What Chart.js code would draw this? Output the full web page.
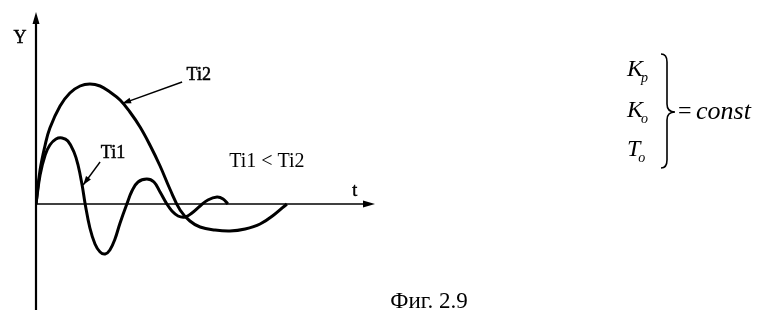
<!DOCTYPE html>
<html>
<head>
<meta charset="utf-8">
<script src="https://cdn.jsdelivr.net/npm/chart.js@4/dist/chart.umd.min.js"></script>
<style>
  html, body { margin: 0; padding: 0; background: #fff; }
  #wrap { width: 758px; height: 320px; position: relative; }
</style>
</head>
<body>
<div id="wrap"><canvas id="c" width="758" height="320"></canvas></div>
<script>
// Step responses of the controlled variable for two integral times
const t_Ti1 = [0, 0.12, 0.27, 0.41, 0.59, 0.77, 0.94, 1.12, 1.24, 1.36, 1.45, 1.59, 1.74, 1.89, 2.04, 2.18, 2.33, 2.48, 2.68, 2.83, 3.01, 3.27, 3.48, 3.66, 3.86, 4.01, 4.19, 4.40, 4.60, 4.84, 5.07, 5.34, 5.52, 5.66];
const y_Ti1 = [0, 1.45, 2.45, 2.95, 3.25, 3.3, 3.15, 2.6, 1.95, 0.95, 0, -1.2, -2.0, -2.4, -2.5, -2.3, -1.75, -0.95, 0, 0.65, 1.1, 1.25, 1.1, 0.6, 0, -0.35, -0.6, -0.65, -0.45, -0.1, 0.2, 0.35, 0.25, 0];

const t_Ti2 = [0, 0.12, 0.27, 0.41, 0.71, 1.0, 1.3, 1.59, 1.89, 2.18, 2.48, 2.77, 3.07, 3.36, 3.66, 3.95, 4.25, 4.54, 4.84, 5.28, 5.72, 6.17, 6.61, 7.05, 7.40];
const y_Ti2 = [0, 1.7, 2.95, 3.8, 4.9, 5.55, 5.9, 6.0, 5.9, 5.6, 5.2, 4.6, 3.85, 2.95, 1.9, 0.75, -0.3, -0.85, -1.15, -1.3, -1.35, -1.25, -1.0, -0.5, 0];

const seriesNames = ['Ti1', 'Ti2'];
const relationText = 'Ti1 < Ti2';
const axisNames = { x: 't', y: 'Y' };
const captionText = 'Фиг. 2.9';

const toPoints = (ts, ys) => ts.map((t, i) => ({ x: t, y: ys[i] }));

const SERIF = '"Liberation Serif", "DejaVu Serif", serif';

function arrowHead(ctx, x0, y0, x1, y1, len, half) {
  const a = Math.atan2(y1 - y0, x1 - x0);
  ctx.beginPath();
  ctx.moveTo(x1, y1);
  ctx.lineTo(x1 - len * Math.cos(a) + half * Math.sin(a), y1 - len * Math.sin(a) - half * Math.cos(a));
  ctx.lineTo(x1 - len * Math.cos(a) - half * Math.sin(a), y1 - len * Math.sin(a) + half * Math.cos(a));
  ctx.closePath();
  ctx.fill();
}

// text with a faint outline so it reads as heavy as printed type
function inkText(ctx, s, x, y) {
  ctx.fillText(s, x, y);
  ctx.lineWidth = 0.5;
  ctx.strokeText(s, x, y);
}

// Axes with arrows, drawn under the curves
const axesPlugin = {
  id: 'arrowAxes',
  beforeDatasetsDraw(chart) {
    const { ctx, chartArea: ca, scales: { x, y } } = chart;
    const x0 = x.getPixelForValue(0), y0 = y.getPixelForValue(0);
    ctx.save();
    ctx.strokeStyle = '#000';
    ctx.fillStyle = '#000';
    ctx.lineWidth = 2.2;
    ctx.beginPath();
    ctx.moveTo(x0, ca.bottom);
    ctx.lineTo(x0, ca.top + 6);
    ctx.stroke();
    arrowHead(ctx, x0, ca.bottom, x0, ca.top, 12, 3.5);
    ctx.lineWidth = 1.6;
    ctx.beginPath();
    ctx.moveTo(x0, y0);
    ctx.lineTo(ca.right - 6, y0);
    ctx.stroke();
    arrowHead(ctx, x0, y0, ca.right, y0, 12, 3.5);
    ctx.restore();
  }
};

// Series labels, pointer arrows, axis names and the side notes
const notesPlugin = {
  id: 'notes',
  afterDatasetsDraw(chart) {
    const { ctx, scales: { x, y } } = chart;
    const px = v => x.getPixelForValue(v), py = v => y.getPixelForValue(v);
    ctx.save();
    ctx.fillStyle = '#000';
    ctx.strokeStyle = '#000';

    // pointers from labels to curves
    const pointers = [
      { from: [4.31, 6.1], to: [2.54, 5.02] },
      { from: [1.89, 2.1], to: [1.39, 0.95] }
    ];
    ctx.lineWidth = 1.4;
    pointers.forEach(p => {
      const a = [px(p.from[0]), py(p.from[1])], b = [px(p.to[0]), py(p.to[1])];
      ctx.beginPath();
      ctx.moveTo(a[0], a[1]);
      ctx.lineTo(b[0], b[1]);
      ctx.stroke();
      arrowHead(ctx, a[0], a[1], b[0], b[1], 9, 3);
    });

    ctx.font = '18px ' + SERIF;
    ctx.textAlign = 'center';
    ctx.textBaseline = 'middle';
    inkText(ctx, seriesNames[1], px(4.8), py(6.45));
    inkText(ctx, seriesNames[0], px(2.27), py(2.55));
    ctx.font = '20px ' + SERIF;
    ctx.fillText(relationText, px(6.81), py(2.1));
    ctx.font = '18px ' + SERIF;
    inkText(ctx, axisNames.x, px(9.4), py(0.65));
    inkText(ctx, axisNames.y, px(0) - 16, 38);

    // constant parameters
    const row = (main, sub, yy) => {
      ctx.textAlign = 'left';
      ctx.font = 'italic 24px ' + SERIF;
      ctx.fillText(main, 627, yy);
      const w = ctx.measureText(main).width;
      ctx.font = 'italic 14px ' + SERIF;
      ctx.fillText(sub, 627 + w - 2, yy + 8);
    };
    row('K', 'p', 70);
    row('K', 'o', 111);
    row('T', 'o', 150);

    // right brace
    ctx.lineWidth = 1.6;
    ctx.beginPath();
    ctx.moveTo(661, 54);
    ctx.quadraticCurveTo(667, 54, 667, 62);
    ctx.lineTo(667, 104);
    ctx.quadraticCurveTo(667, 112, 675, 112);
    ctx.quadraticCurveTo(667, 112, 667, 120);
    ctx.lineTo(667, 160);
    ctx.quadraticCurveTo(667, 168, 661, 168);
    ctx.stroke();

    ctx.textAlign = 'left';
    ctx.font = '24px ' + SERIF;
    ctx.fillText('=', 678, 112);
    ctx.font = 'italic 26px ' + SERIF;
    ctx.fillText('const', 696, 112);

    ctx.textAlign = 'center';
    ctx.font = '23px ' + SERIF;
    ctx.fillText(captionText, 429, 302);
    ctx.restore();
  }
};

new Chart(document.getElementById('c'), {
  type: 'line',
  data: {
    datasets: [
      { label: seriesNames[0], data: toPoints(t_Ti1, y_Ti1) },
      { label: seriesNames[1], data: toPoints(t_Ti2, y_Ti2) }
    ]
  },
  options: {
    responsive: false,
    animation: false,
    events: [],
    layout: { padding: { left: 36, right: 383, top: 12, bottom: 10 } },
    elements: {
      line: { borderColor: '#000', borderWidth: 3, tension: 0.4, fill: false },
      point: { radius: 0 }
    },
    scales: {
      x: { type: 'linear', min: 0, max: 10, display: false },
      y: { type: 'linear', min: -5.3, max: 9.6, display: false }
    },
    plugins: { legend: { display: false }, tooltip: { enabled: false } }
  },
  plugins: [axesPlugin, notesPlugin]
});
</script>
</body>
</html>
